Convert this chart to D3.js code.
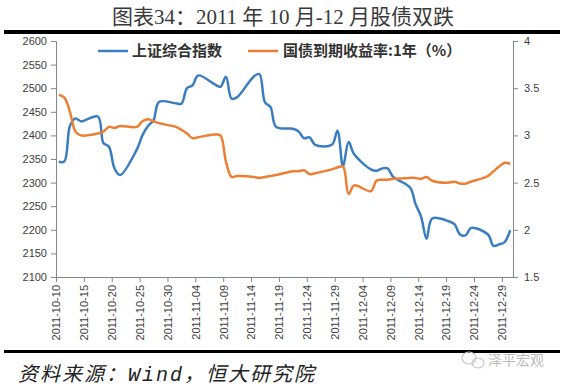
<!DOCTYPE html>
<html><head><meta charset="utf-8">
<script src="https://cdn.jsdelivr.net/npm/d3@7"></script>
<style>body{margin:0;background:#fff}svg{display:block}</style>
</head><body>
<svg id="c" width="568" height="390"></svg>
<script>
const dates = ["2011-10-10","2011-10-11","2011-10-12","2011-10-13","2011-10-14",
"2011-10-17","2011-10-18","2011-10-19","2011-10-20","2011-10-21",
"2011-10-24","2011-10-25","2011-10-26","2011-10-27","2011-10-28",
"2011-10-31","2011-11-01","2011-11-02","2011-11-03","2011-11-04",
"2011-11-07","2011-11-08","2011-11-09","2011-11-10","2011-11-11",
"2011-11-14","2011-11-15","2011-11-16","2011-11-17","2011-11-18",
"2011-11-21","2011-11-22","2011-11-23","2011-11-24","2011-11-25",
"2011-11-28","2011-11-29","2011-11-30","2011-12-01","2011-12-02",
"2011-12-05","2011-12-06","2011-12-07","2011-12-08","2011-12-09",
"2011-12-12","2011-12-13","2011-12-14","2011-12-15","2011-12-16",
"2011-12-19","2011-12-20","2011-12-21","2011-12-22","2011-12-23",
"2011-12-26","2011-12-27","2011-12-28","2011-12-29","2011-12-30"];
const shIndex = [2344,2345,2420,2436,2430,
2440,2384,2376,2330,2316,
2370,2400,2420,2432,2471,
2468,2467,2500,2506,2527,
2508,2503,2524,2478,2481,
2525,2530,2470,2460,2418,
2414,2409,2394,2396,2380,
2380,2410,2334,2386,2360,
2328,2325,2330,2330,2312,
2290,2255,2228,2181,2224,
2218,2212,2190,2188,2204,
2190,2166,2169,2174,2199];
const bondYield = [3.43,3.40,3.25,3.04,3.00,
3.02,3.04,3.09,3.08,3.10,
3.09,3.15,3.17,3.15,3.13,
3.09,3.06,3.02,2.97,2.98,
3.01,3.00,2.72,2.56,2.57,
2.56,2.55,2.56,2.57,2.58,
2.62,2.62,2.63,2.59,2.60,
2.64,2.66,2.67,2.38,2.47,
2.41,2.52,2.53,2.53,2.54,
2.55,2.55,2.54,2.56,2.52,
2.50,2.51,2.49,2.49,2.51,
2.57,2.62,2.67,2.71,2.70];
const leftTicks = [2100,2150,2200,2250,2300,2350,2400,2450,2500,2550,2600];
const rightTicks = [1.5,2,2.5,3,3.5,4];
const xTickLabels = ["2011-10-10","2011-10-15","2011-10-20","2011-10-25","2011-10-30","2011-11-04","2011-11-09","2011-11-14","2011-11-19","2011-11-24","2011-11-29","2011-12-04","2011-12-09","2011-12-14","2011-12-19","2011-12-24","2011-12-29"];
const seriesNames = ["上证综合指数","国债到期收益率:1年（%）"];
const colors = ["#3a7dc1","#ec7f33"];

const parse = d3.utcParse("%Y-%m-%d");
const svg = d3.select("#c");
const L = 56, R = 513, T = 41, B = 277;

const x = d3.scaleUtc().domain([parse("2011-10-10"), parse("2011-12-31")]).range([L, R]);
const yL = d3.scaleLinear().domain([2100,2600]).range([B, T]);
const yR = d3.scaleLinear().domain([1.5,4]).range([B, T]);
const half = 12*3600*1000;

// title
svg.append("text").attr("x",283).attr("y",24).attr("text-anchor","middle")
  .attr("font-family","'Liberation Serif','Noto Sans CJK SC'").attr("font-size",21)
  .attr("fill","#3a3a3a").text("图表34：2011 年 10 月-12 月股债双跌");
svg.append("rect").attr("x",4).attr("y",30).attr("width",556).attr("height",4).attr("fill","#000");

// axes
const tickFont = "'Liberation Sans',Arial,sans-serif";
const gL = svg.append("g").attr("transform",`translate(${L},0)`)
  .call(d3.axisLeft(yL).tickValues(leftTicks).tickSize(5).tickPadding(4).tickFormat(d3.format("d")));
const gR = svg.append("g").attr("transform",`translate(${R},0)`)
  .call(d3.axisRight(yR).tickValues(rightTicks).tickSize(5).tickPadding(6).tickFormat(d=>String(d)));
const gX = svg.append("g").attr("transform",`translate(0,${B})`)
  .call(d3.axisBottom(x).tickValues(xTickLabels.map(parse)).tickSize(5).tickFormat(d3.utcFormat("%Y-%m-%d")));
gX.select(".domain").attr("d",`M${L},0.5H${R}`);
[gL,gR,gX].forEach(g=>{
  g.select(".domain").attr("stroke","#868686");
  g.selectAll(".tick line").attr("stroke","#868686");
  g.selectAll(".tick text").attr("font-family",tickFont).attr("font-size",11).attr("fill","#404040");
});
gX.selectAll(".tick text").attr("transform","rotate(-90)").attr("text-anchor","end")
  .attr("x",-8).attr("y",0).attr("dy","0.35em");

// lines
const curve = d3.curveCatmullRom.alpha(0.5);
const pts = dates.map(parse);
svg.append("path").datum(shIndex).attr("fill","none").attr("stroke",colors[0]).attr("stroke-width",2.5)
  .attr("d", d3.line().x((d,i)=>x(+pts[i]+half)).y(d=>yL(d)).curve(curve));
svg.append("path").datum(bondYield).attr("fill","none").attr("stroke",colors[1]).attr("stroke-width",2.5)
  .attr("d", d3.line().x((d,i)=>x(+pts[i]+half)).y(d=>yR(d)).curve(curve));

// legend
const lg = [{x:98,tx:132,name:seriesNames[0],c:colors[0]},{x:248,tx:283,name:seriesNames[1],c:colors[1]}];
lg.forEach(o=>{
  svg.append("line").attr("x1",o.x).attr("x2",o.x+30).attr("y1",51).attr("y2",51).attr("stroke",o.c).attr("stroke-width",2.5);
  svg.append("text").attr("x",o.tx).attr("y",56).attr("font-family","'Noto Sans CJK SC'").attr("font-weight","bold")
    .attr("font-size",15).attr("fill","#333").text(o.name);
});

// footer
svg.append("rect").attr("x",4).attr("y",350).attr("width",556).attr("height",3).attr("fill","#000");
svg.append("text").attr("x",18).attr("y",381).attr("font-family","'Liberation Mono','Noto Sans CJK SC'")
  .attr("font-style","italic").attr("font-size",20).attr("fill","#222")
  .attr("textLength",296).attr("lengthAdjust","spacing").text("资料来源：Wind，恒大研究院");
// watermark
const wm = svg.append("g").attr("fill","none").attr("stroke","#c8c8c8").attr("stroke-width",1.2);
wm.append("ellipse").attr("cx",469).attr("cy",358).attr("rx",7).attr("ry",6);
wm.append("ellipse").attr("cx",478).attr("cy",363).attr("rx",6).attr("ry",5);
svg.append("text").attr("x",488).attr("y",365).attr("font-family","'Noto Sans CJK SC'")
  .attr("font-size",14).attr("fill","#bcbcbc").text("泽平宏观");
</script>
</body></html>
